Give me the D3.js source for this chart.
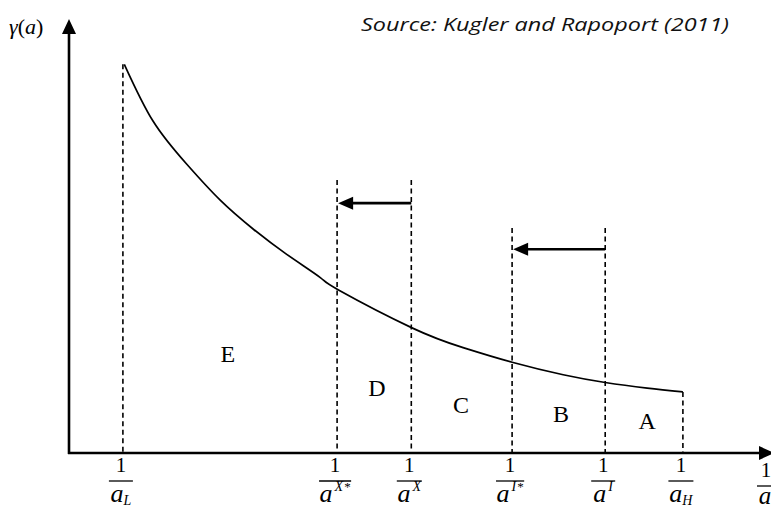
<!DOCTYPE html>
<html>
<head>
<meta charset="utf-8">
<script src="https://cdn.jsdelivr.net/npm/d3@7"></script>
<style>
  html, body { margin: 0; padding: 0; background: #fff; }
  svg { display: block; }
</style>
</head>
<body>
<svg id="chart" width="771" height="510"></svg>
<script>
// ---------- data ----------
// curve gamma(a) against 1/a
const curveX = [0.79, 1.20, 1.68, 2.16, 2.63, 3.11, 3.59, 3.85, 4.90, 5.63, 6.33, 7.06, 7.66, 8.26, 8.77];
const curveY = [9.04, 7.72, 6.72, 5.88, 5.21, 4.62, 4.08, 3.79, 2.91, 2.45, 2.11, 1.82, 1.64, 1.51, 1.42];

// tick positions on the 1/a axis and their denominators
const tickNames = ["aL", "aX*", "aX", "aI*", "aI", "aH"];
const tickValues = [0.77, 3.83, 4.89, 6.33, 7.66, 8.77];
const tickBase = ["a", "a", "a", "a", "a", "a"];
const tickScript = ["L", "X", "X", "I", "I", "H"];
const tickStar = ["", "*", "", "*", "", ""];
const tickScriptType = ["sub", "sup", "sup", "sup", "sup", "sub"];

// tops of the dashed vertical guides (gamma units)
const guideTops = [9.04, 6.35, 6.35, 5.23, 5.23, 1.42];

// shift arrows: from -> to (in 1/a units) at height (gamma units)
const arrowFrom = [4.89, 7.66];
const arrowTo = [3.83, 6.33];
const arrowLevel = [5.81, 4.74];

// region labels
const regionNames = ["E", "D", "C", "B", "A"];
const regionX = [2.27, 4.40, 5.60, 7.03, 8.26];
const regionY = [2.12, 1.33, 0.93, 0.72, 0.56];

const sourceText = "Source: Kugler and Rapoport (2011)";

// ---------- layout ----------
const svg = d3.select("#chart");
const x = d3.scaleLinear().domain([0, 10]).range([69, 769]);
const y = d3.scaleLinear().domain([0, 10]).range([453, 23]);
const serif = "'Liberation Serif', 'Times New Roman', serif";

// axes
svg.append("line").attr("x1", x(0)).attr("x2", x(0))
  .attr("y1", y(0) + 1).attr("y2", 30)
  .attr("stroke", "#000").attr("stroke-width", 2.6);
svg.append("path").attr("d", `M${x(0) - 7},34 L${x(0)},19 L${x(0) + 7},34 Z`).attr("fill", "#000");

svg.append("line").attr("x1", x(0) - 1).attr("x2", 762)
  .attr("y1", y(0)).attr("y2", y(0))
  .attr("stroke", "#000").attr("stroke-width", 2.6);
svg.append("path").attr("d", `M759,${y(0) - 7} L774,${y(0)} L759,${y(0) + 7} Z`).attr("fill", "#000");

// dashed guides
svg.append("g").selectAll("line").data(tickValues).join("line")
  .attr("x1", d => x(d)).attr("x2", d => x(d))
  .attr("y1", (d, i) => y(guideTops[i])).attr("y2", y(0))
  .attr("stroke", "#000").attr("stroke-width", 1.6)
  .attr("stroke-dasharray", "5,3.5");

// curve
const pts = curveX.map((v, i) => [v, curveY[i]]);
svg.append("path")
  .attr("d", d3.line().x(d => x(d[0])).y(d => y(d[1])).curve(d3.curveNatural)(pts))
  .attr("fill", "none").attr("stroke", "#000").attr("stroke-width", 1.7);

// arrows
arrowFrom.forEach((f, i) => {
  const yy = y(arrowLevel[i]);
  const tip = x(arrowTo[i]) + 1;
  svg.append("line").attr("x1", x(f)).attr("x2", tip + 12)
    .attr("y1", yy).attr("y2", yy)
    .attr("stroke", "#000").attr("stroke-width", 2.6);
  svg.append("path").attr("d", `M${tip},${yy} L${tip + 15},${yy - 6.5} L${tip + 15},${yy + 6.5} Z`).attr("fill", "#000");
});

// region labels
svg.append("g").selectAll("text").data(regionNames).join("text")
  .attr("x", (d, i) => x(regionX[i])).attr("y", (d, i) => y(regionY[i]))
  .attr("text-anchor", "middle")
  .attr("font-family", serif).attr("font-size", 24)
  .text(d => d);

// tick labels: 1 / a^x
tickValues.forEach((v, i) => {
  const cx = x(v) - 2;
  const g = svg.append("g");
  g.append("text").attr("x", cx).attr("y", 472)
    .attr("text-anchor", "middle").attr("font-family", serif).attr("font-size", 21)
    .text("1");
  const den = g.append("text").attr("x", cx).attr("y", 502)
    .attr("text-anchor", "middle").attr("font-family", serif);
  den.append("tspan").attr("font-size", 26).attr("font-style", "italic").text(tickBase[i]);
  const isSup = tickScriptType[i] === "sup";
  den.append("tspan").attr("font-size", 14).attr("font-style", "italic")
    .attr("dy", isSup ? -11 : 3).attr("dx", isSup ? 2 : 0).text(tickScript[i]);
  if (tickStar[i]) den.append("tspan").attr("font-size", 13).attr("dx", 1).text(tickStar[i]);
  const bb = den.node().getBBox();
  const w = Math.max(bb.width + 1, 24);
  g.append("line").attr("x1", cx - w / 2).attr("x2", cx + w / 2)
    .attr("y1", 481).attr("y2", 481).attr("stroke", "#000").attr("stroke-width", 1.3);
});

// axis title 1/a
const gt = svg.append("g");
gt.append("text").attr("x", 766).attr("y", 477).attr("text-anchor", "middle")
  .attr("font-family", serif).attr("font-size", 21).text("1");
gt.append("line").attr("x1", 757).attr("x2", 781).attr("y1", 486).attr("y2", 486)
  .attr("stroke", "#000").attr("stroke-width", 1.3);
gt.append("text").attr("x", 765).attr("y", 504).attr("text-anchor", "middle")
  .attr("font-family", serif).attr("font-size", 25).attr("font-style", "italic").text("a");

// y title gamma(a)
const yt = svg.append("text").attr("x", 9).attr("y", 34).attr("font-family", serif).attr("font-size", 22);
yt.append("tspan").attr("font-style", "italic").text("γ");
yt.append("tspan").text("(");
yt.append("tspan").attr("font-style", "italic").text("a");
yt.append("tspan").text(")");

// source
svg.append("text").attr("x", 361).attr("y", 31)
  .attr("font-family", "'Open Sans', 'Liberation Sans', sans-serif")
  .attr("font-style", "italic").attr("font-size", 19)
  .attr("textLength", 368).attr("lengthAdjust", "spacingAndGlyphs")
  .attr("fill", "#111")
  .text(sourceText);
</script>
</body>
</html>
